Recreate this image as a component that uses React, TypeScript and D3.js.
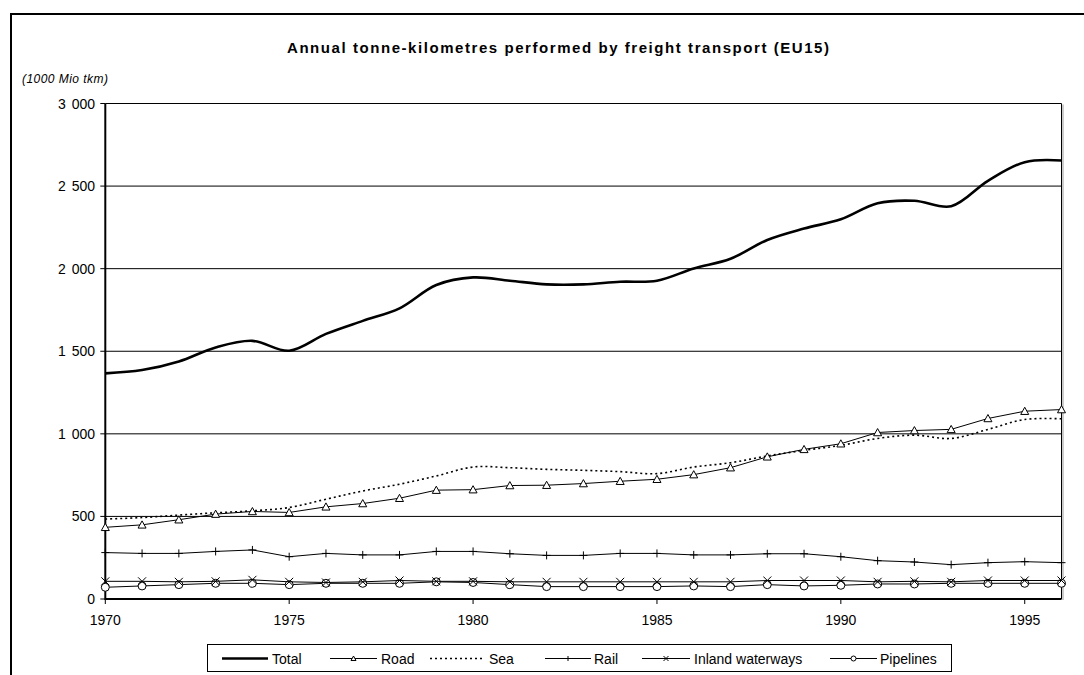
import React from "react";
import * as d3 from "d3";

const years = [1970, 1971, 1972, 1973, 1974, 1975, 1976, 1977, 1978, 1979, 1980, 1981, 1982, 1983, 1984, 1985, 1986, 1987, 1988, 1989, 1990, 1991, 1992, 1993, 1994, 1995, 1996];

const total = [1366, 1386, 1438, 1523, 1563, 1503, 1605, 1684, 1760, 1901, 1947, 1927, 1905, 1905, 1921, 1927, 2001, 2060, 2174, 2243, 2299, 2396, 2411, 2378, 2532, 2645, 2655];
const road = [434, 449, 480, 514, 530, 524, 558, 578, 610, 659, 662, 687, 689, 699, 713, 725, 753, 795, 861, 906, 940, 1008, 1020, 1027, 1093, 1137, 1147];
const sea = [484, 493, 508, 522, 534, 554, 604, 654, 695, 745, 799, 795, 785, 779, 771, 759, 799, 825, 866, 900, 930, 972, 992, 972, 1027, 1087, 1091];
const rail = [281, 276, 276, 288, 297, 256, 276, 267, 267, 288, 288, 274, 264, 264, 276, 276, 267, 267, 274, 274, 256, 232, 224, 208, 220, 226, 220];
const inland = [107, 107, 104, 107, 116, 104, 100, 104, 112, 107, 107, 104, 104, 104, 104, 104, 104, 104, 112, 112, 112, 104, 107, 104, 112, 112, 112];
const pipelines = [71, 79, 87, 95, 95, 87, 95, 95, 95, 104, 100, 87, 75, 75, 75, 75, 79, 75, 87, 79, 83, 91, 91, 95, 95, 95, 95];

const yTicks = [0, 500, 1000, 1500, 2000, 2500, 3000];
const xTicks = [1970, 1975, 1980, 1985, 1990, 1995];

const title = "Annual tonne-kilometres performed by freight transport  (EU15)";
const unitLabel = "(1000 Mio tkm)";

type Marker = "none" | "triangle" | "plus" | "cross" | "circle";
const seriesList: { name: string; values: number[]; marker: Marker; width: number; dash?: string; smooth: boolean }[] = [
  { name: "Total", values: total, marker: "none", width: 2.6, smooth: true },
  { name: "Road", values: road, marker: "triangle", width: 1, smooth: false },
  { name: "Sea", values: sea, marker: "none", width: 1.6, dash: "2,3", smooth: true },
  { name: "Rail", values: rail, marker: "plus", width: 1, smooth: false },
  { name: "Inland waterways", values: inland, marker: "cross", width: 1, smooth: false },
  { name: "Pipelines", values: pipelines, marker: "circle", width: 1, smooth: false },
];

const FONT = "'Liberation Sans', Arial, sans-serif";

function MarkerShape({ type, x, y, s }: { type: Marker; x: number; y: number; s: number }) {
  if (type === "triangle") {
    const h = s * 0.9;
    return <path d={`M${x},${y - h * 0.55}L${x + s / 2},${y + h * 0.45}L${x - s / 2},${y + h * 0.45}Z`} fill="#fff" stroke="#000" strokeWidth={1} />;
  }
  if (type === "circle") {
    return <circle cx={x} cy={y} r={s / 2} fill="#fff" stroke="#000" strokeWidth={1} />;
  }
  if (type === "cross") {
    const h = s / 2;
    return <path d={`M${x - h},${y - h}L${x + h},${y + h}M${x - h},${y + h}L${x + h},${y - h}`} stroke="#000" strokeWidth={1} />;
  }
  if (type === "plus") {
    const h = s / 2;
    return <path d={`M${x},${y - h}L${x},${y + h}M${x - h},${y}L${x + h},${y}`} stroke="#000" strokeWidth={1} />;
  }
  return null;
}

export default function App() {
  const W = 1084, H = 675;
  const left = 105.3, right = 1061.5, top = 103.5, bottom = 599;
  const x = d3.scaleLinear().domain([1970, 1996]).range([left, right]);
  const y = d3.scaleLinear().domain([0, 3000]).range([bottom, top]);

  const legendItems = [
    { x1: 222, x2: 268, tx: 272 },
    { x1: 330, x2: 377, tx: 381 },
    { x1: 430, x2: 485, tx: 489 },
    { x1: 545, x2: 591, tx: 594 },
    { x1: 642, x2: 690, tx: 694 },
    { x1: 830, x2: 877, tx: 880 },
  ];

  return (
    <svg width={W} height={H} style={{ position: "absolute", left: 0, top: 0, background: "#fff" }} fontFamily={FONT}>
      <rect x={0} y={0} width={W} height={H} fill="#fff" />
      {/* outer frame */}
      <path d={`M11,${H}L11,14L${W},14`} fill="none" stroke="#000" strokeWidth={2} />
      {/* title */}
      <text x={287} y={53} fontWeight="bold" fontSize={15} fill="#000" textLength={542} lengthAdjust="spacing">{title}</text>
      <text x={22} y={83} fontStyle="italic" fontSize={12} fill="#000" textLength={86} lengthAdjust="spacing">{unitLabel}</text>

      {/* gridlines */}
      {yTicks.map((t) => (
        <g key={t}>
          <line x1={left} x2={right} y1={y(t)} y2={y(t)} stroke="#000" strokeWidth={t === 0 ? 2 : 1} />
          <line x1={left - 5} x2={left} y1={y(t)} y2={y(t)} stroke="#000" strokeWidth={1} />
          <text x={95} y={y(t) + 5} textAnchor="end" fontSize={14} wordSpacing={2} fill="#000">{d3.format(",")(t).replace(/,/g, " ")}</text>
        </g>
      ))}
      {/* plot border right */}
      <line x1={right + 1.5} x2={right + 1.5} y1={top + 1} y2={bottom + 1} stroke="#999" strokeWidth={1} />
      <line x1={right} x2={right} y1={top} y2={bottom} stroke="#000" strokeWidth={1} />
      {/* y axis */}
      <line x1={left} x2={left} y1={top} y2={bottom + 1} stroke="#000" strokeWidth={2} />
      {/* x ticks */}
      {xTicks.map((t) => (
        <g key={t}>
          <line x1={x(t)} x2={x(t)} y1={bottom} y2={bottom + 5} stroke="#000" strokeWidth={1} />
          <text x={x(t)} y={625} textAnchor="middle" fontSize={14} fill="#000">{t}</text>
        </g>
      ))}

      {/* series lines (reverse order so Total on top) */}
      {seriesList.slice().reverse().map((s) => {
        const gen = d3
          .line<number>()
          .x((_, i) => x(years[i]))
          .y((v) => y(v))
          .curve(s.smooth ? d3.curveCatmullRom.alpha(0.5) : d3.curveLinear);
        return (
          <g key={s.name}>
            <path d={gen(s.values) || ""} fill="none" stroke="#000" strokeWidth={s.width} strokeDasharray={s.dash} />
            {s.marker !== "none" &&
              s.values.map((v, i) => <MarkerShape key={i} type={s.marker} x={x(years[i])} y={y(v)} s={8} />)}
          </g>
        );
      })}

      {/* legend */}
      <rect x={207.5} y={644.5} width={744} height={27} fill="#fff" stroke="#000" strokeWidth={1} />
      {seriesList.map((s, i) => {
        const it = legendItems[i];
        const cy = 658.5;
        return (
          <g key={s.name}>
            <line x1={it.x1} x2={it.x2} y1={cy} y2={cy} stroke="#000" strokeWidth={s.width} strokeDasharray={s.dash} />
            {s.marker !== "none" && <MarkerShape type={s.marker} x={(it.x1 + it.x2) / 2} y={cy} s={5} />}
            <text x={it.tx} y={664} fontSize={14} fill="#000">{s.name}</text>
          </g>
        );
      })}
    </svg>
  );
}
